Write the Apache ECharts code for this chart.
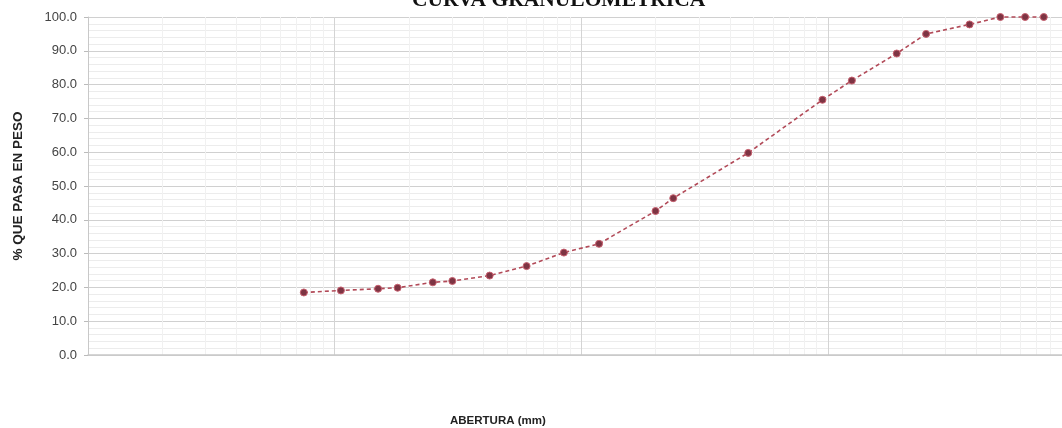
<!DOCTYPE html>
<html>
<head>
<meta charset="utf-8">
<script src="https://cdn.jsdelivr.net/npm/echarts@6/dist/echarts.min.js"></script>
<style>
  html, body { margin: 0; padding: 0; background: #ffffff; overflow: hidden; }
  #chart { width: 1062px; height: 428px; }
</style>
</head>
<body>
<div id="chart"></div>
<script>
// Sieve openings (mm) and percentage passing
const sieveSizes = [0.075, 0.106, 0.15, 0.18, 0.25, 0.3, 0.425, 0.6, 0.85, 1.18, 2.0, 2.36, 4.75, 9.5, 12.5, 19, 25, 37.5, 50, 63, 75];
const passing    = [18.5, 19.1, 19.6, 19.9, 21.5, 21.9, 23.5, 26.3, 30.3, 32.9, 42.6, 46.4, 59.8, 75.5, 81.2, 89.2, 95.0, 97.8, 100, 100, 100];
const yTicks = [0, 10, 20, 30, 40, 50, 60, 70, 80, 90, 100];
const xRange = [0.01, 88.9]; // visible opening range (right end cropped in the picture)

const titleText = 'CURVA GRANULOMETRICA';
const xName = 'ABERTURA (mm)';
const yName = '% QUE PASA EN PESO';

const chart = echarts.init(document.getElementById('chart'), null, { renderer: 'canvas' });

chart.setOption({
  backgroundColor: '#ffffff',
  animation: false,
  grid: { left: 88, right: 0, top: 17, bottom: 73, containLabel: false },
  xAxis: {
    type: 'log',
    logBase: 10,
    min: xRange[0],
    max: xRange[1],
    interval: 1,
    axisLabel: { show: false },
    axisTick: { show: false },
    axisLine: { show: true, lineStyle: { color: '#c8c8c8', width: 1.5 } },
    splitLine: { show: true, lineStyle: { color: '#d4d4d4', width: 1 } },
    minorTick: { show: false, splitNumber: 9 },
    minorSplitLine: { show: true, lineStyle: { color: '#f1f1f1', width: 1 } }
  },
  yAxis: {
    type: 'value',
    min: yTicks[0],
    max: yTicks[yTicks.length - 1],
    interval: 10,
    name: yName,
    nameLocation: 'middle',
    nameGap: 63,
    nameRotate: 90,
    nameTextStyle: { fontFamily: 'Liberation Sans, Arial, sans-serif', fontWeight: 'bold', fontSize: 13.5, color: '#222' },
    axisLabel: {
      formatter: v => v.toFixed(1),
      fontFamily: 'Liberation Sans, Arial, sans-serif',
      fontSize: 13,
      color: '#444',
      margin: 11
    },
    axisTick: { show: true, length: 4, lineStyle: { color: '#bbb' } },
    axisLine: { show: true, lineStyle: { color: '#c8c8c8', width: 1 } },
    splitLine: { show: true, lineStyle: { color: '#d0d0d0', width: 1 } },
    minorTick: { show: false, splitNumber: 5 },
    minorSplitLine: { show: true, lineStyle: { color: '#ececec', width: 1 } }
  },
  graphic: [
    {
      type: 'text',
      left: 412,
      top: -11,
      style: {
        text: titleText,
        font: 'bold 21.5px "Liberation Serif", "Times New Roman", serif',
        fill: '#111'
      }
    },
    {
      type: 'text',
      left: 450,
      top: 415,
      style: {
        text: xName,
        font: 'bold 11.5px "Liberation Sans", Arial, sans-serif',
        fill: '#222'
      }
    }
  ],
  series: [{
    type: 'line',
    data: sieveSizes.map((s, i) => [s, passing[i]]),
    symbol: 'circle',
    symbolSize: 7,
    itemStyle: { color: '#7d3443', borderColor: '#c8606f', borderWidth: 1 },
    lineStyle: { color: '#b24a58', width: 1.6, type: [4, 3] },
    clip: false
  }]
});
</script>
</body>
</html>
